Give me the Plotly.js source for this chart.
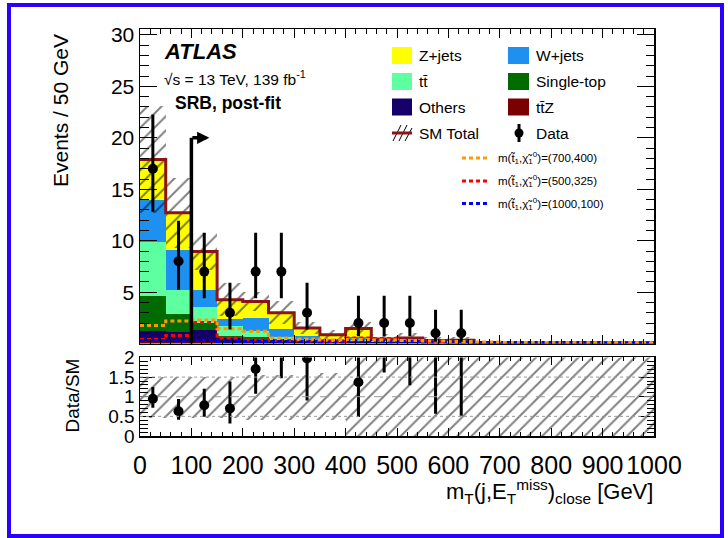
<!DOCTYPE html>
<html><head><meta charset="utf-8">
<script src="https://cdn.plot.ly/plotly-3.0.1.min.js"></script>
<style>
html,body{margin:0;padding:0;background:#fff}
#wrap{position:relative;width:728px;height:538px}
#plot{width:728px;height:538px}
#frame{position:absolute;left:7px;top:3px;width:717px;height:535px;border:4px solid #2b00ff;box-sizing:border-box;pointer-events:none}
</style>
</head><body>
<div id="wrap"><div id="plot"></div><div id="frame"></div></div>
<script>
// ---- data ----
const binEdges = [0,50,100,150,200,250,300,350,400,450,500,550,600,650,700,750,800,850,900,950,1000];
const binCenters = [25,75,125,175,225,275,325,375,425,475,525,575,625,675,725,775,825,875,925,975];
const ttZ      = [0.25,0.2,0.2,0.1,0.1,0.08,0.05,0.04,0.05,0.04,0.05,0.03,0.03,0.02,0.02,0.02,0.02,0.01,0.01,0.01];
const others   = [0.95,0.95,1.15,0.4,0.3,0.2,0.15,0.1,0.1,0.08,0.08,0.05,0.05,0.02,0.02,0.01,0.01,0.01,0.01,0.01];
const singleTop= [3.4,1.7,0.65,0.25,0.2,0.1,0.08,0.05,0.1,0.05,0.05,0.03,0.03,0.01,0.01,0.01,0.01,0.01,0.01,0.01];
const ttbar    = [5.3,2.36,1.53,0.93,0.6,0.3,0.2,0.1,0.15,0.08,0.08,0.05,0.05,0.02,0.02,0.02,0.01,0.01,0.01,0.01];
const wJets    = [4.1,3.86,1.71,0.72,1.3,0.71,0.25,0.15,0.2,0.1,0.1,0.05,0.05,0.01,0.01,0.01,0.01,0.01,0.01,0.01];
const zJets    = [3.9,3.65,3.72,1.87,1.6,1.62,0.79,0.43,0.86,0.09,0.19,0.09,0.12,0.02,0.02,0.02,0.01,0.01,0.01,0.01];
const bandErr  = [5.2,3.4,1.8,1.6,0.95,1.15,0.6,0.5,0.65,0.45,0.45,0.35,0.35,0.12,0.1,0.1,0.08,0.08,0.07,0.07];
const dataCounts  = [17,8,7,3,7,7,3,0,2,2,2,1,1,0,0,0,0,0,0,0];
const dataErrLow  = [4.18,2.77,2.58,1.63,2.58,2.58,1.63,0,1.29,1.29,1.29,0.83,0.83,0,0,0,0,0,0,0];
const dataErrHigh = [5.28,3.95,3.77,2.92,3.77,3.77,2.92,0,2.64,2.64,2.64,2.30,2.30,0,0,0,0,0,0,0];
const sig700_400  = [1.75,2.2,2.3,1.45,1.2,0.55,0.45,0.35,0.4,0.35,0.3,0.25,0.2,0.15,0.12,0.1,0.08,0.06,0.05,0.04];
const sig500_325  = [0.4,0.8,2.05,0.55,0.35,0.3,0.25,0.2,0.55,0.5,0.3,0.2,0.15,0.1,0.08,0.06,0.05,0.04,0.03,0.02];
const sig1000_100 = [0.3,0.25,0.3,0.2,0.2,0.2,0.2,0.15,0.25,0.2,0.2,0.15,0.15,0.12,0.12,0.1,0.1,0.1,0.08,0.08];
const ratioBandLow  = [0.45,0.45,0.45,0.45,0.42,0.42,0.42,0.42,0,0,0,0,0,0,0,0,0,0,0,0];
const ratioBandHigh = [1.5,1.5,1.5,1.5,1.55,1.55,1.55,1.6,2,2,2,2,2,2,2,2,2,2,2,2];
const xTickVals = [0,100,200,300,400,500,600,700,800,900,1000];
const yTickVals = [0,5,10,15,20,25,30];
const yTickText = ['','5','10','15','20','25','30'];
const rTickVals = [0,0.5,1,1.5,2];
const rTickText = ['0','0.5','1','1.5','2'];

// ---- styling ----
const FONT = 'Liberation Sans, Arial, Helvetica, sans-serif';
const stackDef = [
  [ttZ, '#7a0000'], [others, '#140068'], [singleTop, '#006b00'],
  [ttbar, '#5effa0'], [wJets, '#1e90f0'], [zJets, '#ffff00']
];
const traces = [];
let cum = binCenters.map(()=>0);
stackDef.forEach(([vals,col])=>{
  traces.push({type:'bar', x:binCenters, y:vals, base:cum.slice(), width:50,
    marker:{color:col, line:{width:0}}, xaxis:'x', yaxis:'y', hoverinfo:'skip', showlegend:false});
  cum = cum.map((c,i)=>c+vals[i]);
});
const total = cum;
const pattern = {shape:'/', fgcolor:'#000', bgcolor:'rgba(0,0,0,0)', size:10, solidity:0.2, fillmode:'overlay'};
traces.push({type:'bar', x:binCenters, y:bandErr.map(e=>2*e), base:total.map((t,i)=>t-bandErr[i]), width:50,
  marker:{color:'rgba(0,0,0,0)', line:{width:0}, pattern:pattern}, xaxis:'x', yaxis:'y', hoverinfo:'skip', showlegend:false});
const stepY = arr => arr.concat([arr[arr.length-1]]);
traces.push({type:'scatter', mode:'lines', x:binEdges, y:stepY(total), line:{shape:'hv', color:'#8b1414', width:3},
  xaxis:'x', yaxis:'y', hoverinfo:'skip', showlegend:false});
[[sig500_325,'#ff0000'],[sig1000_100,'#0000ff'],[sig700_400,'#ff9900']].forEach(([vals,col])=>{
  traces.push({type:'scatter', mode:'lines', x:binEdges, y:stepY(vals), line:{shape:'hv', color:col, width:3, dash:'4px,3px'},
    xaxis:'x', yaxis:'y', hoverinfo:'skip', showlegend:false});
});
const dIdx = dataCounts.map((d,i)=>i).filter(i=>dataCounts[i]>0);
traces.push({type:'scatter', mode:'markers', x:dIdx.map(i=>binCenters[i]), y:dIdx.map(i=>dataCounts[i]),
  marker:{color:'#000', size:10},
  error_y:{type:'data', symmetric:false, array:dIdx.map(i=>dataErrHigh[i]), arrayminus:dIdx.map(i=>dataErrLow[i]), color:'#000', thickness:3, width:0},
  xaxis:'x', yaxis:'y', hoverinfo:'skip', showlegend:false});
// ratio panel
traces.push({type:'bar', x:binCenters, y:ratioBandHigh.map((h,i)=>h-ratioBandLow[i]), base:ratioBandLow, width:50,
  marker:{color:'rgba(0,0,0,0)', line:{width:0}, pattern:pattern}, xaxis:'x2', yaxis:'y2', hoverinfo:'skip', showlegend:false});
traces.push({type:'scatter', mode:'markers', x:dIdx.map(i=>binCenters[i]), y:dIdx.map(i=>dataCounts[i]/total[i]),
  marker:{color:'#000', size:10},
  error_y:{type:'data', symmetric:false, array:dIdx.map(i=>dataErrHigh[i]/total[i]), arrayminus:dIdx.map(i=>dataErrLow[i]/total[i]), color:'#000', thickness:3, width:0},
  xaxis:'x2', yaxis:'y2', hoverinfo:'skip', showlegend:false, cliponaxis:true});

// ---- layout helpers (pixel -> paper) ----
const L=140, R=654, T=29, B=436;
const px = v => (v-L)/(R-L);
const py = v => (B-v)/(B-T);
const shapes = [], annotations = [];
function box(x0,x1,yc,col){ shapes.push({type:'rect', xref:'paper', yref:'paper', x0:px(x0), x1:px(x1), y0:py(yc+8.5), y1:py(yc-8.5), fillcolor:col, line:{width:0}}); }
function txt(x,y,text,size,opts){ annotations.push(Object.assign({xref:'paper', yref:'paper', x:px(x), y:py(y), text:text, showarrow:false,
  xanchor:'left', yanchor:'middle', font:{family:FONT, size:size, color:'#000'}}, opts||{})); }
function seg(x0,y0,x1,y1,col,w,dash){ shapes.push({type:'line', xref:'paper', yref:'paper', x0:px(x0), y0:py(y0), x1:px(x1), y1:py(y1), line:{color:col, width:w, dash:dash||'solid'}}); }

// legend
const rows=[55.5,81.5,107,133];
box(392,412,rows[0],'#ffff00'); txt(417,rows[0],'Z+jets',15.5);
box(508,529,rows[0],'#1e90f0'); txt(534,rows[0],'W+jets',15.5);
box(392,412,rows[1],'#5effa0'); txt(417,rows[1],'tt\u0304',15.5);
box(508,529,rows[1],'#006b00'); txt(534,rows[1],'Single-top',15.5);
box(392,412,rows[2],'#140068'); txt(417,rows[2],'Others',15.5);
box(508,529,rows[2],'#7a0000'); txt(534,rows[2],'tt\u0304Z',15.5);
seg(393,141,401,125,'#000',1); seg(399,141,407,125,'#000',1); seg(405,141,412,128,'#000',1);
seg(392,133,412,133,'#8b1414',3); txt(417,rows[3],'SM Total',15.5);
seg(519,124,519,142,'#000',3);
shapes.push({type:'circle', xref:'paper', yref:'paper', x0:px(514.5), x1:px(523.5), y0:py(137.5), y1:py(128.5), fillcolor:'#000', line:{width:0}});
txt(534,rows[3],'Data',15.5);
const sigRows=[158,181,203.5];
[['#ff9900','(700,400)'],['#ff0000','(500,325)'],['#0000ff','(1000,100)']].forEach(([c,t],k)=>{
  seg(462,sigRows[k],490,sigRows[k],c,3,'4px,3px');
  txt(496,sigRows[k],'m(t\u0303<sub>1</sub>,\u03c7\u0303<sub>1</sub><sup>0</sup>)='+t,11.5);
});
// ATLAS labels
txt(162,52,'<b><i>ATLAS</i></b>',22);
txt(162,78,'\u221as = 13 TeV, 139 fb<sup>-1</sup>',15.5);
txt(173,103,'<b>SRB, post-fit</b>',17.5);
// axis titles
txt(60,111,'Events / 50 GeV',21,{xanchor:'center', textangle:-90});
txt(72,395.5,'Data/SM',19,{xanchor:'center', textangle:-90});
txt(655,491,'m<sub>T</sub>(j,E<sub>T</sub><sup>miss</sup>)<sub>close</sub> [GeV]',22,{xanchor:'right'});
// cut arrow
shapes.push({type:'line', xref:'x', yref:'y', x0:100, x1:100, y0:0, y1:20, line:{color:'#000', width:3.5}});
annotations.push({xref:'x', yref:'y', axref:'x', ayref:'y', x:135, y:20, ax:99, ay:20, text:'', showarrow:true,
  arrowhead:2, arrowsize:0.7, arrowwidth:3.5, arrowcolor:'#000', standoff:0, startstandoff:0});
// ratio reference lines
shapes.push({type:'line', xref:'x2', yref:'y2', x0:0, x1:1000, y0:1, y1:1, line:{color:'#999', width:1, dash:'dash'}});
shapes.push({type:'line', xref:'x2', yref:'y2', x0:0, x1:1000, y0:0.5, y1:0.5, line:{color:'#999', width:1, dash:'dot'}});
shapes.push({type:'line', xref:'x2', yref:'y2', x0:0, x1:1000, y0:1.5, y1:1.5, line:{color:'#999', width:1, dash:'dot'}});

const axBase = {showline:true, linecolor:'#000', linewidth:1.5, mirror:'allticks', ticks:'inside', tickcolor:'#000',
  showgrid:false, zeroline:false, tickfont:{family:FONT, size:21, color:'#000'}};
const layout = {
  width:728, height:538, margin:{l:L, r:728-R, t:T, b:538-B},
  paper_bgcolor:'#fff', plot_bgcolor:'#fff', barmode:'overlay', bargap:0, showlegend:false,
  xaxis: Object.assign({}, axBase, {domain:[0,1], anchor:'y', range:[0,1000], tickmode:'array', tickvals:xTickVals, showticklabels:false,
    ticklen:9, tickwidth:1, minor:{dtick:20, tick0:0, ticklen:4.5, ticks:'inside', tickcolor:'#000'}, matches:'x2'}),
  yaxis: Object.assign({}, axBase, {domain:[0.227,1], anchor:'x', range:[0,30.58], tickmode:'array', tickvals:yTickVals, ticktext:yTickText,
    ticklen:17, tickwidth:1, minor:{dtick:1, tick0:0, ticklen:8.5, ticks:'inside', tickcolor:'#000'}}),
  xaxis2: Object.assign({}, axBase, {domain:[0,1], anchor:'y2', range:[0,1000], tickmode:'array', tickvals:xTickVals,
    tickfont:{family:FONT, size:25, color:'#000'}, ticklen:8, tickwidth:1, ticklabelstandoff:6,
    minor:{dtick:20, tick0:0, ticklen:4, ticks:'inside', tickcolor:'#000'}}),
  yaxis2: Object.assign({}, axBase, {domain:[0,0.193], anchor:'x2', range:[0,2], tickmode:'array', tickvals:rTickVals, ticktext:rTickText,
    tickfont:{family:FONT, size:19, color:'#000'},
    ticklen:15, tickwidth:1, minor:{dtick:0.1, tick0:0, ticklen:7.5, ticks:'inside', tickcolor:'#000'}}),
  shapes:shapes, annotations:annotations
};
Plotly.newPlot('plot', traces, layout, {staticPlot:true, displayModeBar:false});
</script>
</body></html>
